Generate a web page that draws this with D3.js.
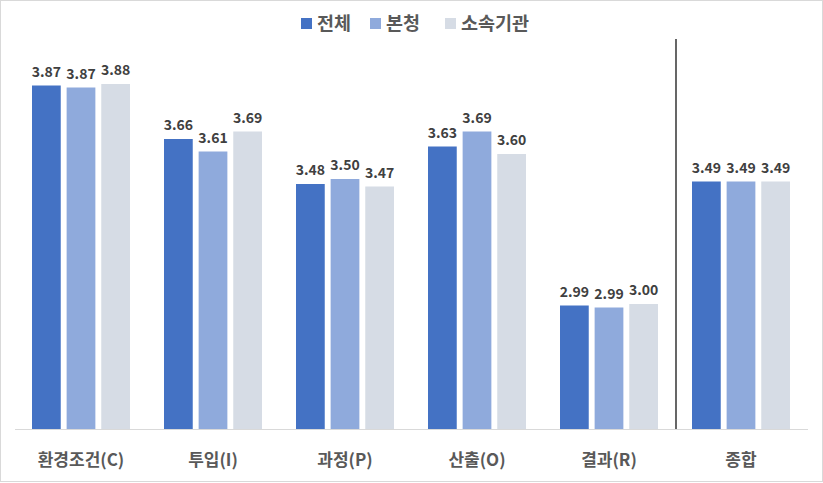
<!DOCTYPE html>
<html><head><meta charset="utf-8">
<script src="https://cdn.jsdelivr.net/npm/d3@7"></script>
<style>body{margin:0;background:#fff}svg{display:block}</style>
</head><body><svg id="c" width="823" height="483"></svg>
<script>
const categories = ["환경조건(C)", "투입(I)", "과정(P)", "산출(O)", "결과(R)", "종합"];
const seriesNames = ["전체", "본청", "소속기관"];
const total  = [3.874, 3.66, 3.48, 3.63, 2.994, 3.49];
const hq     = [3.866, 3.61, 3.50, 3.69, 2.986, 3.49];
const branch = [3.88, 3.69, 3.47, 3.60, 3.00, 3.49];
const colors = ["#4472c4", "#8faadc", "#d6dce5"];
const series = [total, hq, branch];

const svg = d3.select("#c");
const W = 823, H = 483;
const font = "'Noto Sans CJK KR', 'Noto Sans', sans-serif";
svg.append("rect").attr("x",0.5).attr("y",0.5).attr("width",W-1).attr("height",H-2)
  .attr("fill","#fff").attr("stroke","#d9d9d9");

const x0 = d3.scaleBand().domain(categories).range([15, 807]).paddingInner(0).paddingOuter(0);
const x1 = d3.scaleBand().domain(d3.range(3)).range([17, 115]).paddingInner(0.17);
const y = d3.scaleLinear().domain([2.5, 4.0]).range([429, 54]);

const g = svg.append("g");
categories.forEach((c, i) => {
  series.forEach((s, j) => {
    const xp = x0(c) + x1(j);
    g.append("rect").attr("x", xp).attr("y", y(s[i])).attr("width", x1.bandwidth())
      .attr("height", y(2.5) - y(s[i])).attr("fill", colors[j]);
    g.append("text").attr("x", xp + x1.bandwidth()/2).attr("y", y(s[i]) - 9)
      .attr("text-anchor","middle").attr("font-family", font).attr("font-weight","bold")
      .attr("font-size", 14).attr("fill","#404040").text(s[i].toFixed(2));
  });
});

// baseline axis
svg.append("line").attr("x1",15).attr("x2",808).attr("y1",429.5).attr("y2",429.5)
  .attr("stroke","#d9d9d9").attr("stroke-width",1);
const xAxis = d3.axisBottom(x0).tickSize(0).tickPadding(0);
const ax = svg.append("g").attr("transform","translate(0,429)").call(xAxis);
ax.select(".domain").remove();
ax.selectAll("text").attr("font-family", font).attr("font-weight","bold")
  .attr("font-size",17).attr("fill","#595959").attr("dy",0).attr("y",37);

// separator
const sepX = (x0("결과(R)") + x0.bandwidth() + x0("종합")) / 2 + 1;
svg.append("line").attr("x1", sepX).attr("x2", sepX).attr("y1", 39).attr("y2", 429)
  .attr("stroke","#000").attr("stroke-width",1.2);

// legend
const legendX = [301, 370, 445];
seriesNames.forEach((n, j) => {
  svg.append("rect").attr("x", legendX[j]).attr("y", 18).attr("width", 11).attr("height", 11).attr("fill", colors[j]);
  svg.append("text").attr("x", legendX[j] + 16).attr("y", 30).attr("font-family", font)
    .attr("font-weight","bold").attr("font-size",18.5).attr("fill","#595959").text(n);
});
</script></body></html>
